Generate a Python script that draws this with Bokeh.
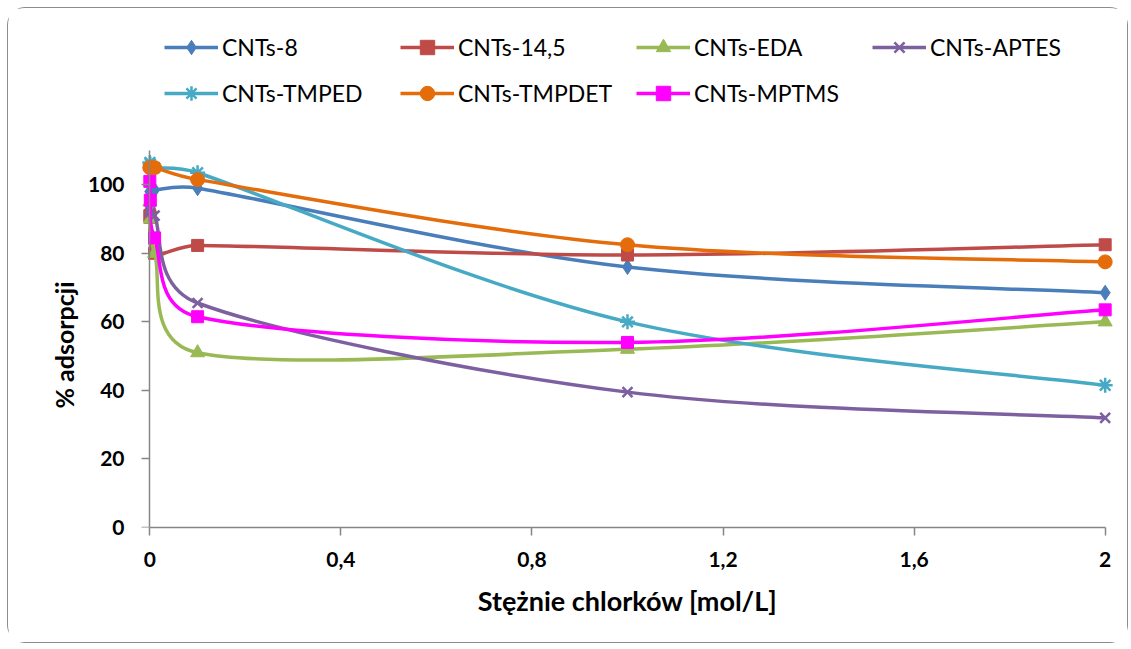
import math
from bokeh.plotting import figure
from bokeh.models import Range1d, LinearAxis, FixedTicker, Legend, LegendItem, Title
from bokeh.embed import file_html
from bokeh.resources import INLINE

# ---------------- data ----------------
conc = [0, 0.001, 0.01, 0.1, 1, 2]          # mol/L
x_ticks = [0, 0.4, 0.8, 1.2, 1.6, 2]
x_tick_labels = ["0", "0,4", "0,8", "1,2", "1,6", "2"]
y_ticks = [0, 20, 40, 60, 80, 100]

series_names = ["CNTs-8", "CNTs-14,5", "CNTs-EDA", "CNTs-APTES",
                "CNTs-TMPED", "CNTs-TMPDET", "CNTs-MPTMS"]
cnts_8 = [98, 98, 98.5, 99, 76, 68.5]
cnts_14_5 = [91, 90.5, 80, 82.3, 79.5, 82.5]
cnts_eda = [95, 90, 80, 51, 52, 60]
cnts_aptes = [93, 92, 91, 65.5, 39.5, 32]
cnts_tmped = [106.5, 106, 105, 103.5, 60, 41.5]
cnts_tmpdet = [105, 105, 105, 101.5, 82.5, 77.5]
cnts_mptms = [101, 95.5, 84.5, 61.5, 54, 63.5]

series_values = [cnts_8, cnts_14_5, cnts_eda, cnts_aptes, cnts_tmped, cnts_tmpdet, cnts_mptms]

# ---------------- style ----------------
colors = ["#4A7EBB", "#BE4B48", "#98B954", "#7D60A0", "#46AAC5", "#E46C0A", "#FF00FF"]
markers = ["diamond", "square", "triangle", "x", "asterisk", "circle", "square"]
msizes = [15, 12, 14, 14, 15, 14, 12]

W, H = 1121, 636
LEFT, TOP = 127, 11
FRAME_W, FRAME_H = 984, 508
X0, X1 = -0.03, 2.03
SX = FRAME_W / (X1 - X0)
SY = 377 / 110.0                      # px per % (axis 0..110 spans 377 px)
Y0, Y1 = 0, FRAME_H / SY              # frame extends above the axis to hold the legend


def smooth_segments(xs, ys):
    """Excel-like smoothed line: Bezier segments with limited tangents (screen space)."""
    pts = [(x * SX, y * SY) for x, y in zip(xs, ys)]
    n = len(pts)
    seg = dict(x0=[], y0=[], x1=[], y1=[], cx0=[], cy0=[], cx1=[], cy1=[])
    for i in range(n - 1):
        p0 = pts[i - 1] if i > 0 else pts[i]
        p1 = pts[i]
        p2 = pts[i + 1]
        p3 = pts[i + 2] if i + 2 < n else pts[i + 1]
        d12 = math.hypot(p2[0] - p1[0], p2[1] - p1[1])
        t1 = [(p2[0] - p0[0]) / 6, (p2[1] - p0[1]) / 6]
        t2 = [(p3[0] - p1[0]) / 6, (p3[1] - p1[1]) / 6]
        for t in (t1, t2):
            ln = math.hypot(t[0], t[1])
            if ln > d12 / 2 and ln > 0:
                k = (d12 / 2) / ln
                t[0] *= k
                t[1] *= k
        c1 = (p1[0] + t1[0], p1[1] + t1[1])
        c2 = (p2[0] - t2[0], p2[1] - t2[1])
        seg["x0"].append(p1[0] / SX); seg["y0"].append(p1[1] / SY)
        seg["x1"].append(p2[0] / SX); seg["y1"].append(p2[1] / SY)
        seg["cx0"].append(c1[0] / SX); seg["cy0"].append(c1[1] / SY)
        seg["cx1"].append(c2[0] / SX); seg["cy1"].append(c2[1] / SY)
    return seg


p = figure(width=W, height=H, output_backend="svg", toolbar_location=None,
           x_range=Range1d(X0, X1), y_range=Range1d(Y0, Y1),
           x_axis_location=None, y_axis_location=None,
           min_border_left=LEFT, min_border_right=W - LEFT - FRAME_W,
           min_border_top=TOP, min_border_bottom=H - TOP - FRAME_H)
p.outline_line_color = None
p.xgrid.visible = False
p.ygrid.visible = False
p.background_fill_color = "white"
p.border_fill_color = "white"
p.styles = {"border": "1.5px solid #8c8c8c", "border-radius": "18px",
            "margin-left": "7px", "margin-top": "7px"}

FONT = "Lato"
AX_COLOR = "#868686"


def style_axis(ax):
    ax.axis_line_color = AX_COLOR
    ax.axis_line_width = 1.5
    ax.major_tick_line_color = AX_COLOR
    ax.major_tick_line_width = 1.5
    ax.major_tick_out = 8
    ax.major_tick_in = 0
    ax.minor_tick_line_color = None
    ax.major_label_text_font = FONT
    ax.major_label_text_font_style = "bold"
    ax.major_label_text_font_size = "21px"
    ax.major_label_text_color = "black"
    ax.axis_label_text_font = FONT
    ax.axis_label_text_font_style = "bold"
    ax.axis_label_text_font_size = "27px"
    ax.axis_label_text_color = "black"


xaxis = LinearAxis(ticker=FixedTicker(ticks=x_ticks),
                   major_label_overrides={t: l for t, l in zip(x_ticks, x_tick_labels)},
                   bounds=(0, 2), axis_label="Stężnie chlorków [mol/L]")
style_axis(xaxis)
xaxis.major_label_standoff = 16
xaxis.axis_label_standoff = 14

# y tick labels (at frame edge, no line / ticks)
ylab = LinearAxis(ticker=FixedTicker(ticks=y_ticks))
style_axis(ylab)
ylab.axis_line_color = None
ylab.major_tick_line_color = None
ylab.major_tick_out = 0
ylab.major_label_standoff = 11

# y axis line + ticks at x = 0
yline = LinearAxis(ticker=FixedTicker(ticks=y_ticks), bounds=(0, 110), fixed_location=0)
style_axis(yline)
yline.major_label_text_alpha = 0
yline.major_label_text_font_size = "1px"

p.add_layout(xaxis, "below")
p.add_layout(ylab, "left")
p.add_layout(yline, "left")

ytitle = Title(text="% adsorpcji", align="left", offset=119, standoff=10,
               text_font=FONT, text_font_style="bold", text_font_size="25px",
               text_color="black", vertical_align="middle")
p.add_layout(ytitle, "left")

items = []
for name, vals, col, mk, ms in zip(series_names, series_values, colors, markers, msizes):
    seg = smooth_segments(conc, vals)
    r_line = p.bezier(x0=seg["x0"], y0=seg["y0"], x1=seg["x1"], y1=seg["y1"],
                      cx0=seg["cx0"], cy0=seg["cy0"], cx1=seg["cx1"], cy1=seg["cy1"],
                      line_color=col, line_width=3.5)
    r_pts = p.scatter(conc, vals, marker=mk, size=ms, fill_color=col, line_color=col,
                      line_width=2.5 if mk in ("x", "asterisk") else 1)
    items.append(LegendItem(label=name, renderers=[r_line, r_pts]))

legend = Legend(items=items, orientation="horizontal", ncols=4,
                location=(29, 416), padding=0, margin=0, spacing=10,
                glyph_width=54, glyph_height=36, label_height=36, label_width=168,
                label_standoff=4, label_text_font=FONT, label_text_font_size="23px",
                label_text_color="black", label_text_baseline="middle",
                border_line_color=None, background_fill_alpha=0)
p.add_layout(legend, "center")

open("out.html", "w").write(file_html(p, INLINE))
